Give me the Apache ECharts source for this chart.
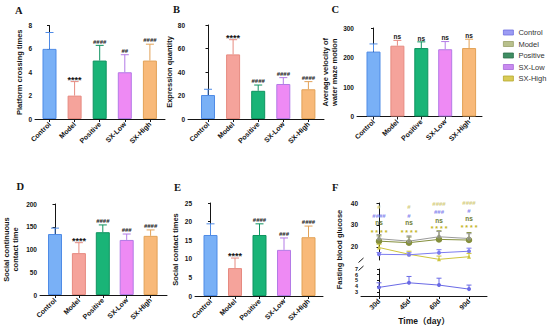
<!DOCTYPE html>
<html><head><meta charset="utf-8">
<script src="https://cdn.jsdelivr.net/npm/echarts@6/dist/echarts.min.js"></script>
<style>html,body{margin:0;padding:0;background:#fff}#c{width:550px;height:329px}</style>
</head><body><div id="c"></div>
<script>
// ---------- data ----------
const groups = ['Control', 'Model', 'Positive', 'SX-Low', 'SX-High'];
// A
const platformMean = [6.0, 2.0, 5.0, 4.0, 5.0];
const platformErrTop = [7.4, 3.2, 6.3, 5.5, 6.4];
const platformSig = ['', '****', '####', '##', '####'];
// B
const exprMean = [20.4, 55.0, 24.0, 29.8, 25.3];
const exprErrTop = [25.3, 67.5, 28.9, 35.2, 31.8];
const exprSig = ['', '****', '####', '####', '####'];
// C
const velocityMean = [220, 240, 232, 228, 232];
const velocityErrTop = [246, 258, 253, 254, 262];
const velocitySig = ['', 'ns', 'ns', 'ns', 'ns'];
// D
const contTimeMean = [134, 92, 138, 121, 130];
const contTimeErrTop = [147, 115, 154, 134, 143];
const contTimeSig = ['', '****', '####', '###', '####'];
// E
const contactMean = [16.4, 7.5, 16.4, 12.4, 15.8];
const contactErrTop = [19.4, 10.2, 19.4, 15.6, 18.8];
const contactSig = ['', '****', '####', '###', '####'];
// F
const days = ['30d', '45d', '60d', '90d'];
const glucUpperTicks = [20, 30, 40];
const glucLowerTicks = [3, 4, 5, 6, 7];
const glucControl = [3.8, 4.6, 4.2, 3.5];
const glucControlErrTop = [4.6, 5.7, 5.4, 4.2];
const glucModel = [23.7, 22.6, 24.6, 23.8];
const glucModelErrTop = [25.6, 25.0, 27.0, 26.0];
const glucPositive = [22.6, 21.9, 23.4, 23.1];
const glucPositiveErrTop = [25.0, 24.5, 27.3, 26.5];
const glucSXLow = [16.6, 16.4, 17.3, 18.0];
const glucSXLowErrTop = [17.4, 17.3, 18.7, 19.4];
const glucSXHigh = [19.7, 16.6, 14.3, 15.5];
const glucSXHighErrTop = [21.2, 18.0, 15.8, 17.0];
const fSigText = [
  ['#', '#', '####', '####'],
  ['####', '#', '###', '#'],
  ['ns', 'ns', 'ns', 'ns'],
  ['****', '****', '****', '****']
];
const fSigY = [
  [38.2, 38.2, 39.5, 40.1],
  [34.1, 34.1, 35.9, 36.5],
  [31.0, 30.9, 31.9, 32.8],
  [27.4, 27.2, 29.0, 29.6]
];

// ---------- styles ----------
const barFill = ['#79b0f6', '#f5a39b', '#19b477', '#ee8af4', '#f8b979'];
const barBorder = ['#4f8be6', '#e68a80', '#0f9360', '#b37ae6', '#e2a257'];
const legendFill = ['#9c9cf4', '#b8c08c', '#3f8e63', '#c98af0', '#d9cb55'];
const legendBorder = ['#7070e0', '#98a068', '#2c6e4a', '#a668d8', '#b5a830'];
const fColors = {Control: '#6a6ae6', Model: '#9a9a9a', Positive: '#848f3c', 'SX-Low': '#7c7cf0', 'SX-High': '#cdc43c'};
const fSigColors = ['#d4cc7c', '#8585ee', '#6e7d32', '#c2b31a'];
const INK = '#151515';
const AXL = {lineStyle: {color: INK, width: 1}};
const FONT = 'Arial, Liberation Sans, sans-serif';

const grids = [], xAxes = [], yAxes = [], series = [];

function sigText(s, x, y, color, small) {
  let size = 6, dy = 0, txt = s;
  if (s.indexOf('*') >= 0) {
    if (small) { size = 7; dy = 1.8; txt = s.split('').join(' '); }
    else { size = 9; dy = 2.2; }
  } else if (s === 'ns') size = 6.5;
  return {type: 'text', x: x, y: y + dy, silent: true,
    style: {text: txt, fill: color || INK, fontSize: size, fontWeight: 'bold', fontFamily: FONT,
      align: 'center', verticalAlign: 'middle'}};
}

function errSeries(gi, means, tops, colors, sigs, capHalf) {
  return {
    type: 'custom', xAxisIndex: gi, yAxisIndex: gi, z: 5, silent: true, animation: false,
    data: means.map((m, i) => [i, m, tops[i]]),
    encode: {x: 0, y: [1, 2]},
    renderItem: (p, api) => {
      const i = p.dataIndex;
      const a = api.coord([api.value(0), api.value(1)]);
      const b = api.coord([api.value(0), api.value(2)]);
      const c = Array.isArray(colors) ? colors[i] : colors;
      const ch = [
        {type: 'line', shape: {x1: a[0], y1: a[1], x2: b[0], y2: b[1]}, style: {stroke: c, lineWidth: 1}},
        {type: 'line', shape: {x1: b[0] - capHalf, y1: b[1], x2: b[0] + capHalf, y2: b[1]}, style: {stroke: c, lineWidth: 1}}
      ];
      if (sigs && sigs[i]) ch.push(sigText(sigs[i], b[0], b[1] - 3.8));
      return {type: 'group', children: ch};
    }
  };
}

function barPanel(cfg) {
  const gi = grids.length;
  grids.push({left: cfg.xs, top: cfg.top, width: cfg.xe - cfg.xs, height: cfg.bottom - cfg.top});
  const xmin = -(cfg.c0 - cfg.xs) / cfg.step, xmax = (cfg.xe - cfg.c0) / cfg.step;
  xAxes.push({gridIndex: gi, type: 'value', min: xmin, max: xmax,
    axisLine: {show: true, onZero: false, ...AXL},
    axisTick: {show: true, customValues: [0, 1, 2, 3, 4], length: 3, ...AXL},
    axisLabel: {customValues: [0, 1, 2, 3, 4], formatter: v => groups[Math.round(v)], rotate: 45, margin: 4,
      fontSize: 7, fontWeight: 'bold', color: INK, fontFamily: FONT},
    splitLine: {show: false}});
  yAxes.push({gridIndex: gi, type: 'value', min: 0, max: cfg.max, interval: cfg.interval,
    name: cfg.name, nameLocation: 'middle', nameGap: cfg.nameGap,
    nameTextStyle: {fontSize: 7.5, fontWeight: 'bold', color: INK, lineHeight: 9, fontFamily: FONT},
    axisLine: {show: true, ...AXL}, axisTick: {show: true, length: 2.5, ...AXL},
    axisLabel: {fontSize: 6.5, fontWeight: 'bold', color: INK, margin: 3, fontFamily: FONT},
    splitLine: {show: false}});
  series.push({type: 'bar', xAxisIndex: gi, yAxisIndex: gi, barWidth: 14, silent: true, animation: false,
    data: cfg.mean.map((v, i) => ({value: [i, v], itemStyle: {color: barFill[i], borderColor: barBorder[i], borderWidth: 1}}))});
  series.push(errSeries(gi, cfg.mean, cfg.errTop, barBorder, cfg.sig, 4));
}

barPanel({xs: 35, xe: 165, c0: 49.5, step: 25.1, top: 25.5, bottom: 119, max: 8, interval: 2,
  name: 'Platform crossing times', nameGap: 11, mean: platformMean, errTop: platformErrTop, sig: platformSig});
barPanel({xs: 188, xe: 324, c0: 208, step: 25.1, top: 25, bottom: 119, max: 80, interval: 20,
  name: 'Expression quantity', nameGap: 11, mean: exprMean, errTop: exprErrTop, sig: exprSig});
barPanel({xs: 357, xe: 482, c0: 373.5, step: 23.9, top: 28, bottom: 116.5, max: 300, interval: 100,
  name: 'Average velocity of\nwater maze motion', nameGap: 14, mean: velocityMean, errTop: velocityErrTop, sig: velocitySig});
barPanel({xs: 40, xe: 167, c0: 55, step: 23.9, top: 204, bottom: 295, max: 200, interval: 50,
  name: 'Social continuous\ncontact time', nameGap: 20, mean: contTimeMean, errTop: contTimeErrTop, sig: contTimeSig});
barPanel({xs: 195, xe: 323, c0: 210.5, step: 24.5, top: 203, bottom: 296, max: 25, interval: 5,
  name: 'Social contact times', nameGap: 15, mean: contactMean, errTop: contactErrTop, sig: contactSig});

// ---------- panel F ----------
const fx = {xs: 361, xe: 487, c0: 379, step: 30};
const fxmin = -(fx.c0 - fx.xs) / fx.step, fxmax = (fx.xe - fx.c0) / fx.step;
const FU = grids.length; // upper
grids.push({left: fx.xs, top: 203, width: fx.xe - fx.xs, height: 57});
xAxes.push({gridIndex: FU, type: 'value', min: fxmin, max: fxmax, show: false});
yAxes.push({gridIndex: FU, type: 'value', min: 14, max: 40,
  axisLine: {show: true, ...AXL}, axisTick: {show: true, length: 2.5, customValues: glucUpperTicks, ...AXL},
  axisLabel: {customValues: glucUpperTicks, fontSize: 6.5, fontWeight: 'bold', color: INK, margin: 3, fontFamily: FONT},
  splitLine: {show: false}});
const FL = grids.length; // lower
grids.push({left: fx.xs, top: 269, width: fx.xe - fx.xs, height: 27});
xAxes.push({gridIndex: FL, type: 'value', min: fxmin, max: fxmax,
  name: 'Time（day）', nameLocation: 'middle', nameGap: 21,
  nameTextStyle: {fontSize: 8.5, fontWeight: 'bold', color: INK, fontFamily: 'Arial, Liberation Sans, Noto Sans CJK SC, sans-serif'},
  axisLine: {show: true, onZero: false, ...AXL},
  axisTick: {show: true, customValues: [0, 1, 2, 3], length: 3, ...AXL},
  axisLabel: {customValues: [0, 1, 2, 3], formatter: v => days[Math.round(v)], rotate: 45, margin: 4,
    fontSize: 7, fontWeight: 'bold', color: INK, fontFamily: FONT},
  splitLine: {show: false}});
yAxes.push({gridIndex: FL, type: 'value', min: 2.3, max: 7,
  axisLine: {show: true, ...AXL}, axisTick: {show: true, length: 2, customValues: glucLowerTicks, ...AXL},
  axisLabel: {show: false},
  splitLine: {show: false}});
// lower-axis tick labels placed through the lower y scale
series.push({type: 'custom', xAxisIndex: FL, yAxisIndex: FL, silent: true, animation: false, z: 6,
  data: glucLowerTicks.map(v => [fxmin, v]), encode: {x: 0, y: 1},
  renderItem: (p, api) => {
    const pt = api.coord([api.value(0), api.value(1)]);
    return {type: 'text', x: pt[0] - 3, y: pt[1], silent: true,
      style: {text: String(api.value(1)), fill: INK, fontSize: 5.5, fontWeight: 'bold', fontFamily: FONT, align: 'right', verticalAlign: 'middle'}};
  }});
const FN = grids.length; // name holder
grids.push({left: fx.xs, top: 203, width: fx.xe - fx.xs, height: 93});
xAxes.push({gridIndex: FN, type: 'value', min: 0, max: 1, show: false});
yAxes.push({gridIndex: FN, type: 'value', min: 0, max: 1, name: 'Fasting blood glucose', nameLocation: 'middle', nameGap: 18,
  nameTextStyle: {fontSize: 7.5, fontWeight: 'bold', color: INK, fontFamily: FONT},
  axisLine: {show: false}, axisTick: {show: false}, axisLabel: {show: false}, splitLine: {show: false}});

function fLine(name, gi, vals, tops, symbol, size) {
  const c = fColors[name];
  series.push({type: 'line', name: name, xAxisIndex: gi, yAxisIndex: gi, silent: true, animation: false,
    data: vals.map((v, i) => [i, v]), symbol: symbol, symbolSize: size,
    lineStyle: {color: c, width: 1}, itemStyle: {color: c}});
  series.push(errSeries(gi, vals, tops, c, null, 2.5));
}
fLine('Control', FL, glucControl, glucControlErrTop, 'circle', 4);
fLine('SX-High', FU, glucSXHigh, glucSXHighErrTop, 'triangle', 4);
fLine('SX-Low', FU, glucSXLow, glucSXLowErrTop, 'circle', 4);
fLine('Positive', FU, glucPositive, glucPositiveErrTop, 'circle', 6.5);
fLine('Model', FU, glucModel, glucModelErrTop, 'circle', 4);

const fSigData = [];
fSigText.forEach((row, r) => row.forEach((t, i) => fSigData.push([i, fSigY[r][i], r])));
series.push({type: 'custom', xAxisIndex: FU, yAxisIndex: FU, silent: true, animation: false, z: 6,
  data: fSigData, encode: {x: 0, y: 1},
  renderItem: (p, api) => {
    const d = fSigData[p.dataIndex];
    const pt = api.coord([d[0], d[1]]);
    return sigText(fSigText[d[2]][d[0]], pt[0], pt[1], fSigColors[d[2]], true);
  }});

const letterStyle = {fontFamily: 'Liberation Serif, DejaVu Serif, serif', fontWeight: 'bold', fontSize: 10.5, color: INK};
const titles = [['A', 15, 5], ['B', 173, 3.5], ['C', 331.5, 4], ['D', 16.5, 181], ['E', 174, 182], ['F', 332, 182]]
  .map(t => ({text: t[0], left: t[1], top: t[2], padding: 0, textStyle: letterStyle}));

const chart = echarts.init(document.getElementById('c'), null, {renderer: 'svg'});
chart.setOption({
  animation: false,
  backgroundColor: '#fff',
  title: titles,
  legend: {orient: 'vertical', left: 503, top: 28.5, padding: 0, itemWidth: 10, itemHeight: 5, itemGap: 3.5, icon: 'rect',
    selectedMode: false,
    textStyle: {fontSize: 7.5, color: '#333', fontFamily: FONT, overflow: 'none', width: 60},
    data: groups.map((g, i) => ({name: g, itemStyle: {color: legendFill[i], borderColor: legendBorder[i], borderWidth: 0.8}}))},
  grid: grids, xAxis: xAxes, yAxis: yAxes, series: series,
  graphic: [
    {type: 'line', shape: {x1: 358.5, y1: 262.5, x2: 363.5, y2: 258}, style: {stroke: INK, lineWidth: 1}},
    {type: 'line', shape: {x1: 358.5, y1: 270.5, x2: 363.5, y2: 266}, style: {stroke: INK, lineWidth: 1}}
  ]
});
</script></body></html>
